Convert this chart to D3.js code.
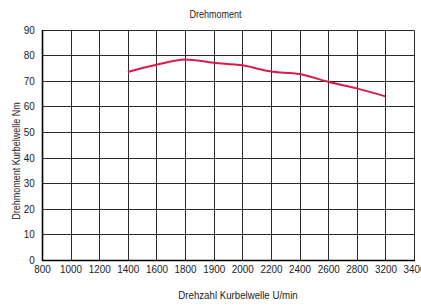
<!DOCTYPE html>
<html>
<head>
<meta charset="utf-8">
<script src="https://cdn.jsdelivr.net/npm/d3@7"></script>
<style>
  body { margin: 0; background: #fff; }
  text { font-family: "Liberation Sans", Arial, sans-serif; fill: #222; }
</style>
</head>
<body>
<div id="chart"></div>
<script>
var w = 421;
var h = 306;

// x categories (equal spacing, as in the source chart)
const rpmTicks = ["800", "1000", "1200", "1400", "1600", "1800", "1900", "2000", "2200", "2400", "2600", "2800", "3200", "3400"];
// torque curve
const rpm = ["1400", "1600", "1800", "1900", "2000", "2200", "2400", "2600", "2800", "3200"];
const torque = [73.4, 76.2, 78.3, 77.0, 76.0, 73.6, 72.6, 69.6, 67.0, 63.9];
const yTicks = [0, 10, 20, 30, 40, 50, 60, 70, 80, 90];

const mLeft = 42, mRight = 414, mTop = 29.5, mBottom = 260;

const svg = d3.select("#chart")
    .append("svg")
    .attr("width", w)
    .attr("height", h);

const x = d3.scalePoint().domain(rpmTicks).range([mLeft, mRight]);
const y = d3.scaleLinear().domain([0, 90]).range([mBottom, mTop]);

// grid
const grid = svg.append("g");
grid.selectAll("line.v")
    .data(rpmTicks)
    .enter().append("line")
    .attr("x1", d => Math.round(x(d)) + 0.5)
    .attr("x2", d => Math.round(x(d)) + 0.5)
    .attr("y1", Math.round(y(90)) + 0.5)
    .attr("y2", Math.round(y(0)) + 0.5)
    .attr("stroke", "#2a2a2a")
    .attr("stroke-width", 1);
grid.selectAll("line.h")
    .data(yTicks)
    .enter().append("line")
    .attr("x1", Math.round(x("800")) + 0.5)
    .attr("x2", Math.round(x("3400")) + 0.5)
    .attr("y1", d => Math.round(y(d)) + 0.5)
    .attr("y2", d => Math.round(y(d)) + 0.5)
    .attr("stroke", "#2a2a2a")
    .attr("stroke-width", 1);

// left and bottom axis lines a bit heavier
svg.append("line")
    .attr("x1", Math.round(x("800")) + 0.5).attr("x2", Math.round(x("800")) + 0.5)
    .attr("y1", Math.round(y(90))).attr("y2", Math.round(y(0)) + 1)
    .attr("stroke", "#000").attr("stroke-width", 1.6);
svg.append("line")
    .attr("x1", Math.round(x("800"))).attr("x2", Math.round(x("3400")) + 1)
    .attr("y1", Math.round(y(0)) + 0.5).attr("y2", Math.round(y(0)) + 0.5)
    .attr("stroke", "#000").attr("stroke-width", 1.6);

// axes (labels only); text squeezed a bit to look like a condensed face
const xAxis = svg.append("g")
    .attr("transform", "translate(0," + mBottom + ")")
    .call(d3.axisBottom(x).tickSize(0).tickPadding(5));
xAxis.select(".domain").remove();
xAxis.selectAll("text")
    .style("font-size", "11px")
    .attr("fill", "#222")
    .attr("transform", "scale(0.9,1)");

const yAxis = svg.append("g")
    .attr("transform", "translate(" + mLeft + ",0)")
    .call(d3.axisLeft(y).tickValues(yTicks).tickSize(0).tickPadding(8));
yAxis.select(".domain").remove();
yAxis.selectAll("text")
    .style("font-size", "11px")
    .attr("fill", "#222")
    .attr("transform", "scale(0.9,1)");

// torque line
const line = d3.line()
    .x((d, i) => x(rpm[i]))
    .y(d => y(d))
    .curve(d3.curveMonotoneX);

svg.append("path")
    .datum(torque)
    .attr("d", line)
    .attr("fill", "none")
    .attr("stroke", "#d81b4a")
    .attr("stroke-width", 2);

// titles
svg.append("text")
    .attr("transform", "translate(215.5,18) scale(0.82,1)")
    .attr("text-anchor", "middle")
    .style("font-size", "11px")
    .text("Drehmoment");

svg.append("text")
    .attr("transform", "translate(238,299) scale(0.88,1)")
    .attr("text-anchor", "middle")
    .style("font-size", "11px")
    .text("Drehzahl Kurbelwelle U/min");

svg.append("text")
    .attr("transform", "translate(20,161) rotate(-90) scale(0.82,1)")
    .attr("text-anchor", "middle")
    .style("font-size", "11px")
    .text("Drehmoment Kurbelwelle Nm");
</script>
</body>
</html>
